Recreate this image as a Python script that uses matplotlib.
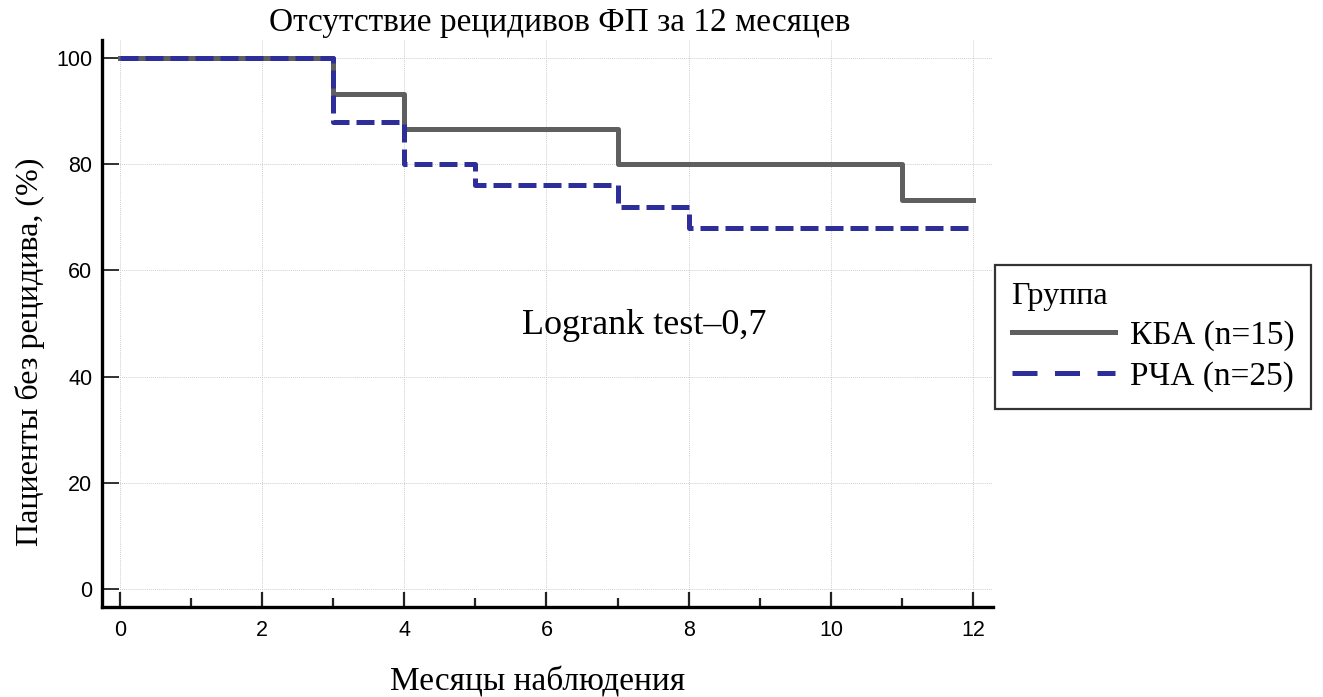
import matplotlib
matplotlib.use("Agg")
import matplotlib.pyplot as plt
from matplotlib.lines import Line2D

title = "Отсутствие рецидивов ФП за 12 месяцев"
xlabel = "Месяцы наблюдения"
ylabel = "Пациенты без рецидива, (%)"
annot = "Logrank test–0,7"
legend_title = "Группа"

kba_label = "КБА (n=15)"
kba_t = [0, 3, 4, 7, 11, 12]
kba_s = [100, 93.3, 86.7, 80, 73.3, 73.3]

rfa_label = "РЧА (n=25)"
rfa_t = [0, 3, 4, 5, 7, 8, 12]
rfa_s = [100, 88, 80, 76, 72, 68, 68]

xticks = [0, 2, 4, 6, 8, 10, 12]
yticks = [0, 20, 40, 60, 80, 100]

serif = ["Liberation Serif", "DejaVu Serif"]
sans = ["Liberation Sans", "DejaVu Sans"]

fig = plt.figure(figsize=(13.23, 6.97), dpi=100)
ax = fig.add_axes([0.0771, 0.1291, 0.6735, 0.8135])

gray = "#5f5f5f"
blue = "#2e2e9a"

ax.step(kba_t, kba_s, where="post", color=gray, lw=3.6, zorder=3)
ax.step(rfa_t, rfa_s, where="post", color=blue, lw=3.6, dashes=(3.6, 1.4), zorder=4)

ax.set_xlim(-0.25, 12.28)
ax.set_ylim(-3.4, 103.4)
ax.set_xticks(xticks)
ax.set_xticks([1, 3, 5, 7, 9, 11], minor=True)
ax.set_yticks(yticks)

for s in ["top", "right"]:
    ax.spines[s].set_visible(False)
for s in ["left", "bottom"]:
    ax.spines[s].set_linewidth(2.4)
    ax.spines[s].set_color("black")

ax.tick_params(axis="x", which="major", direction="in", length=11, width=1.6,
               pad=9, labelsize=15.5, color="#222222")
ax.tick_params(axis="x", which="minor", direction="in", length=6.5, width=1.6, color="#222222")
ax.tick_params(axis="y", which="major", direction="in", length=12.5, width=1.3,
               pad=7, labelsize=15.5, color="#222222")
for lab in ax.get_xticklabels() + ax.get_yticklabels():
    lab.set_fontfamily(sans)

ax.grid(True, which="major", color="#cfcfcf", linestyle=(0, (1, 1)), linewidth=0.7, zorder=0)

fs = 24
fig.text(0.423, 0.968, title, fontsize=fs, family=serif, ha="center", va="center")
fig.text(0.406, 0.022, xlabel, fontsize=fs, family=serif, ha="center", va="center")
fig.text(0.023, 0.495, ylabel, fontsize=23, family=serif, rotation=90, ha="center", va="center")
ax.text(7.38, 49.7, annot, fontsize=26, family=serif, ha="center", va="center")

handles = [Line2D([], [], color=gray, lw=3.6),
           Line2D([], [], color=blue, lw=3.6, dashes=(5, 3.5))]
leg = fig.legend(handles, [kba_label, rfa_label], title=legend_title,
                 loc="upper left", bbox_to_anchor=(0.752, 0.62), borderaxespad=0,
                 prop={"family": serif, "size": 24},
                 title_fontproperties={"family": serif, "size": 23},
                 handlelength=3.1, handletextpad=0.45, borderpad=0.5,
                 labelspacing=0.3, frameon=True, fancybox=False, alignment="left")
leg.get_frame().set_edgecolor("black")
leg.get_frame().set_linewidth(1.6)

fig.savefig("out.png", dpi=100)
